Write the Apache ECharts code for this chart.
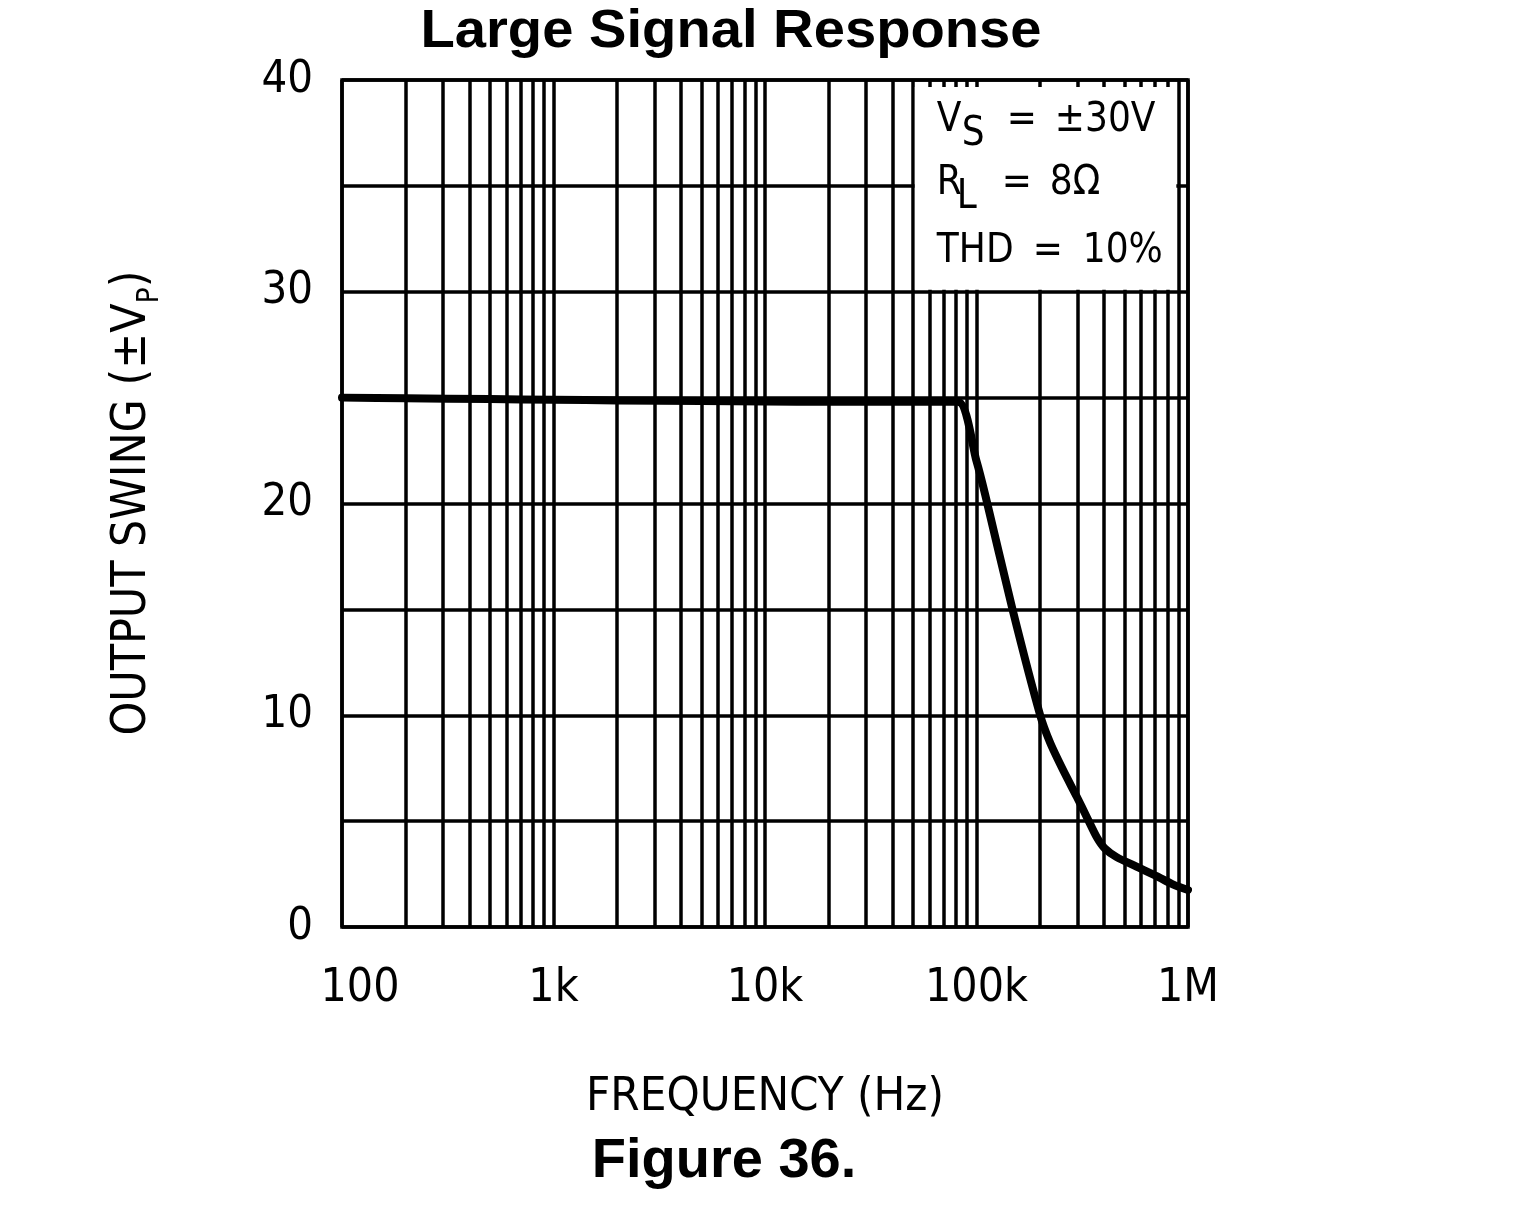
<!DOCTYPE html>
<html>
<head>
<meta charset="utf-8">
<title>Large Signal Response</title>
<script src="https://cdn.jsdelivr.net/npm/echarts@6/dist/echarts.min.js"></script>
<style>
  html, body { margin: 0; padding: 0; background: #fff; }
  #chart { width: 1523px; height: 1215px; }
</style>
</head>
<body>
<div id="chart"></div>
<script>
  // output swing vs frequency
  var freq = [100, 200, 500, 1000, 2000, 5000, 10000, 20000, 50000, 81700, 100000, 110000, 148000, 200000,
              223000, 257000, 298000, 332000, 370000, 405000, 460000, 571000, 711000, 853000, 1000000];
  var swing = [25.0, 24.97, 24.93, 24.9, 24.87, 24.84, 24.82, 24.8, 24.8, 24.8, 22.0, 20.4, 15.0, 10.0,
               8.7, 7.4, 6.15, 5.2, 4.25, 3.7, 3.3, 2.85, 2.4, 2.0, 1.75];

  // decade ticks + labels
  var decadeTicks = [100, 1000, 10000, 100000, 1000000];
  var decadeLabels = ['100', '1k', '10k', '100k', '1M'];

  // minor (2..9 x decade) grid lines
  var minorFreqs = [200, 300, 400, 500, 600, 700, 800, 900,
                    2000, 3000, 4000, 5000, 6000, 7000, 8000, 9000,
                    20000, 30000, 40000, 50000, 60000, 70000, 80000, 90000,
                    200000, 300000, 400000, 500000, 600000, 700000, 800000, 900000];

  var yMin = 0, yMax = 40, yStep = 5;
  var yLabelEvery = 10;

  var FONT = '"DejaVu Sans Condensed", "DejaVu Sans", sans-serif';
  var BOLD = '"Liberation Sans", Arial, sans-serif';
  var GRID_W = 3.5;

  var chart = echarts.init(document.getElementById('chart'), null, {renderer: 'canvas'});

  var option = {
    animation: false,
    backgroundColor: '#fff',
    grid: {
      left: 342, right: 335, top: 80, bottom: 288,
      show: true, borderColor: '#000', borderWidth: GRID_W, backgroundColor: '#fff'
    },
    xAxis: {
      type: 'log',
      logBase: 10,
      min: 100,
      max: 1000000,
      splitNumber: 4,
      name: 'FREQUENCY (Hz)',
      nameLocation: 'middle',
      nameGap: 171,
      nameTextStyle: {fontFamily: FONT, fontSize: 47, color: '#000', verticalAlign: 'middle'},
      axisLine: {show: false},
      axisTick: {show: false},
      axisLabel: {
        showMinLabel: true,
        showMaxLabel: true,
        margin: 39,
        fontFamily: FONT,
        fontSize: 46,
        color: '#000',
        formatter: function (v) {
          var i = decadeTicks.indexOf(Math.round(v));
          if (i < 0) return '';
          return i === 0 ? '{first|' + decadeLabels[i] + '}' : decadeLabels[i];
        },
        rich: {
          first: {fontFamily: FONT, fontSize: 46, color: '#000', padding: [0, 0, 0, 36]}
        }
      },
      splitLine: {show: true, lineStyle: {color: '#000', width: GRID_W}}
    },
    yAxis: {
      type: 'value',
      min: yMin,
      max: yMax,
      interval: yStep,
      axisLine: {show: false},
      axisTick: {show: false},
      axisLabel: {
        margin: 29,
        fontFamily: FONT,
        fontSize: 45,
        color: '#000',
        formatter: function (v) { return v % yLabelEvery === 0 ? String(v) : ''; }
      },
      splitLine: {show: true, lineStyle: {color: '#000', width: GRID_W}}
    },
    series: [
      {
        // carrier for the minor log grid lines
        type: 'line',
        data: [],
        z: 1,
        silent: true,
        markLine: {
          silent: true,
          symbol: ['none', 'none'],
          label: {show: false},
          lineStyle: {color: '#000', width: GRID_W, type: 'solid'},
          data: minorFreqs.map(function (f) { return {xAxis: f}; })
        }
      },
      {
        name: 'Output swing',
        type: 'line',
        z: 5,
        showSymbol: false,
        smooth: 0.25,
        lineStyle: {color: '#000', width: 8, cap: 'round', join: 'round'},
        data: freq.map(function (f, i) { return [f, swing[i]]; })
      }
    ]
  };
  chart.setOption(option);

  // conditions box: white patch bounded by the 50k / 900k / 30V grid lines
  var p0 = chart.convertToPixel({gridIndex: 0}, [50000, 40]);
  var p1 = chart.convertToPixel({gridIndex: 0}, [900000, 30]);
  var bx = p0[0], by = p0[1];

  function txt(x, y, s, size) {
    return {
      type: 'text', x: x, y: y, z: 20,
      style: {text: s, font: (size || 40) + 'px ' + FONT, fill: '#000', align: 'left', verticalAlign: 'middle'}
    };
  }

  var sub = 14;
  var graphics = [
    {
      type: 'rect', z: 10,
      shape: {x: bx + 2, y: by + 7, width: p1[0] - bx - 4, height: p1[1] - by - 9},
      style: {fill: '#fff'}
    },
    txt(bx + 24, by + 41, 'V'), txt(bx + 49, by + 41 + sub, 'S'),
    txt(bx + 94, by + 41, '='), txt(bx + 142, by + 41, '±30V'),
    txt(bx + 24, by + 104, 'R'), txt(bx + 44, by + 104 + sub, 'L'),
    txt(bx + 89, by + 104, '='), txt(bx + 137, by + 104, '8Ω'),
    txt(bx + 24, by + 172, 'THD'), txt(bx + 120, by + 172, '='), txt(bx + 170, by + 172, '10%'),
    {
      type: 'text', x: 731, y: 32, z: 20, scaleX: 1.04,
      style: {text: 'Large Signal Response', font: 'bold 54px ' + BOLD, fill: '#000', align: 'center', verticalAlign: 'middle'}
    },
    {
      type: 'text', x: 724, y: 1162, z: 20,
      style: {text: 'Figure 36.', font: 'bold 56px ' + BOLD, fill: '#000', align: 'center', verticalAlign: 'middle'}
    }
  ];

  // rotated y axis title with subscript P
  var ctx = document.createElement('canvas').getContext('2d');
  var mainFont = '48px ' + FONT, subFont = '30px ' + FONT;
  ctx.font = mainFont;
  var wA = ctx.measureText('OUTPUT SWING (±V').width;
  var wC = ctx.measureText(')').width;
  ctx.font = subFont;
  var wB = ctx.measureText('P').width;
  var total = wA + wB + wC;
  var target = 465;
  graphics.push({
    type: 'group', x: 133, y: 503, rotation: Math.PI / 2, scaleX: target / total, z: 20,
    children: [
      {type: 'text', x: -total / 2, y: 0, z: 20,
       style: {text: 'OUTPUT SWING (±V', font: mainFont, fill: '#000', align: 'left', verticalAlign: 'middle'}},
      {type: 'text', x: -total / 2 + wA, y: 17, z: 20,
       style: {text: 'P', font: subFont, fill: '#000', align: 'left', verticalAlign: 'middle'}},
      {type: 'text', x: -total / 2 + wA + wB, y: 0, z: 20,
       style: {text: ')', font: mainFont, fill: '#000', align: 'left', verticalAlign: 'middle'}}
    ]
  });

  chart.setOption({graphic: graphics});
</script>
</body>
</html>
